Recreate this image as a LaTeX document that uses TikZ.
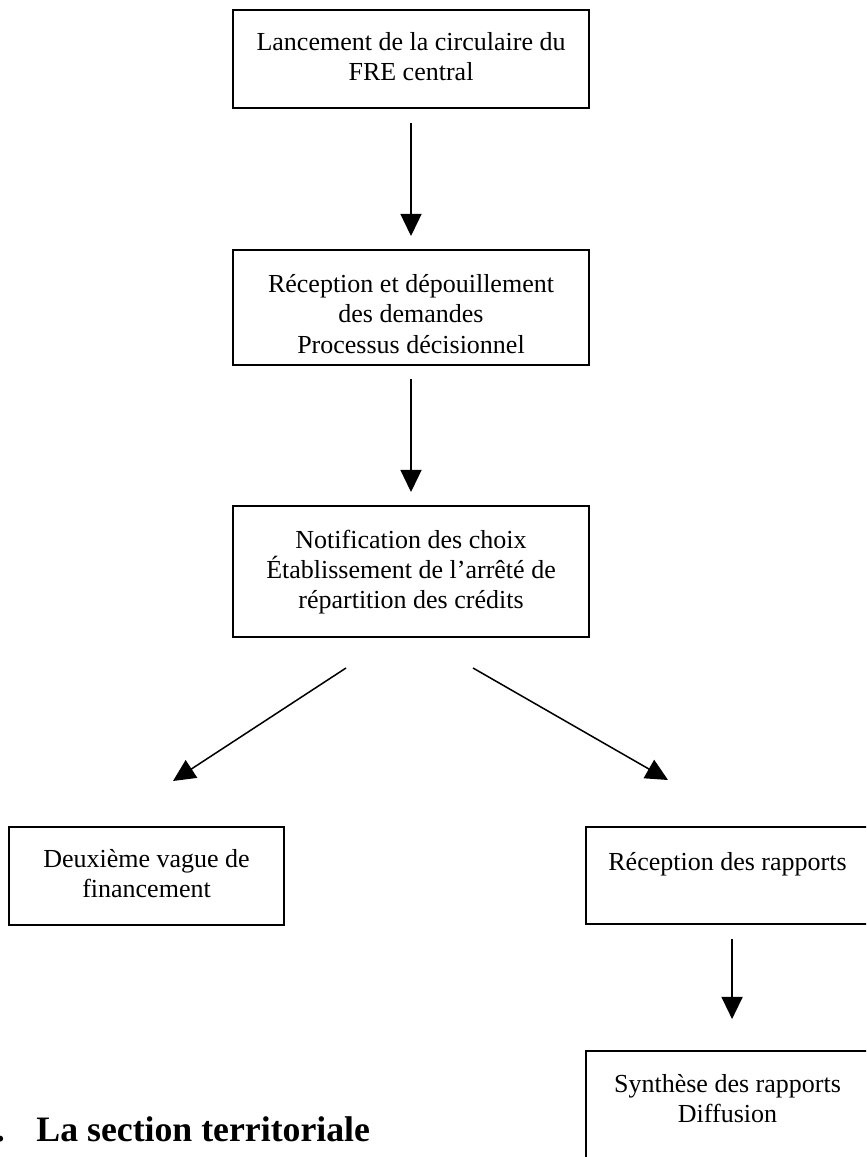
\documentclass[tikz,border=0pt]{standalone}
\usepackage{fontspec}
\setmainfont{Liberation Serif}
\usetikzlibrary{arrows.meta}
\begin{document}
\begin{tikzpicture}[x=0.4615pt,y=-0.4615pt,
  box/.style={draw=black,line width=0.9pt,inner sep=0pt},
  txt/.style={anchor=base,inner sep=0pt,font=\fontsize{12pt}{13.8pt}\selectfont},
  arr/.style={line width=0.7pt,-{Triangle[length=10.2pt,width=9.7pt]}},
  head/.style={anchor=base west,inner sep=0pt,font=\bfseries\fontsize{16.5pt}{19pt}\selectfont}]
\useasboundingbox (0,0) rectangle (866,1157);
\clip (0,0) rectangle (866,1157);
% boxes
\node[box,minimum width=164.3pt,minimum height=45.23pt] (b1) at (411,59) {};
\node[box,minimum width=164.3pt,minimum height=53.07pt] (b2) at (411,307.5) {};
\node[box,minimum width=164.3pt,minimum height=60.46pt] (b3) at (411,571.5) {};
\node[box,minimum width=126.9pt,minimum height=45.23pt] (b4) at (146.5,876) {};
\node[box,minimum width=130.6pt,minimum height=44.77pt] (b5) at (727.5,875.5) {};
\node[box,minimum width=130.6pt,minimum height=53.07pt] (b6) at (727.5,1108.5) {};
% texts
\node[txt] (t1a) at (411,51) {Lancement de la circulaire du};
\node[txt] (t1b) at (411,81) {FRE central};
\node[txt] (t2a) at (411,293) {Réception et dépouillement};
\node[txt] (t2b) at (411,323) {des demandes};
\node[txt] (t2c) at (411,353) {Processus décisionnel};
\node[txt] (t3a) at (411,548) {Notification des choix};
\node[txt] (t3b) at (411,578) {Établissement de l’arrêté de};
\node[txt] (t3c) at (411,608) {répartition des crédits};
\node[txt] (t4a) at (146.5,867) {Deuxième vague de};
\node[txt] (t4b) at (146.5,897) {financement};
\node[txt] (t5a) at (727.5,870) {Réception des rapports};
\node[txt] (t6a) at (727.5,1092) {Synthèse des rapports};
\node[txt] (t6b) at (727.5,1122) {Diffusion};
% heading
\node[head] (hdot) at (-4.5,1141) {.};
\node[head] (htxt) at (36,1141) {La section territoriale};
% connectors
\draw[arr,shorten <=6.46pt,shorten >=6pt] (b1.south) -- (b2.north);
\draw[arr,shorten <=6pt,shorten >=6pt] (b2.south) -- (b3.north);
\coordinate (d1s) at (346,668);
\coordinate (d1e) at (173,781);
\coordinate (d2s) at (473,668);
\coordinate (d2e) at (668,780);
\draw[arr] (d1s) -- (d1e);
\draw[arr] (d2s) -- (d2e);
\draw[arr,shorten <=6.46pt,shorten >=14.3pt] ([xshift=2.1pt]b5.south) -- ([xshift=2.1pt]b6.north);
\end{tikzpicture}
\end{document}
